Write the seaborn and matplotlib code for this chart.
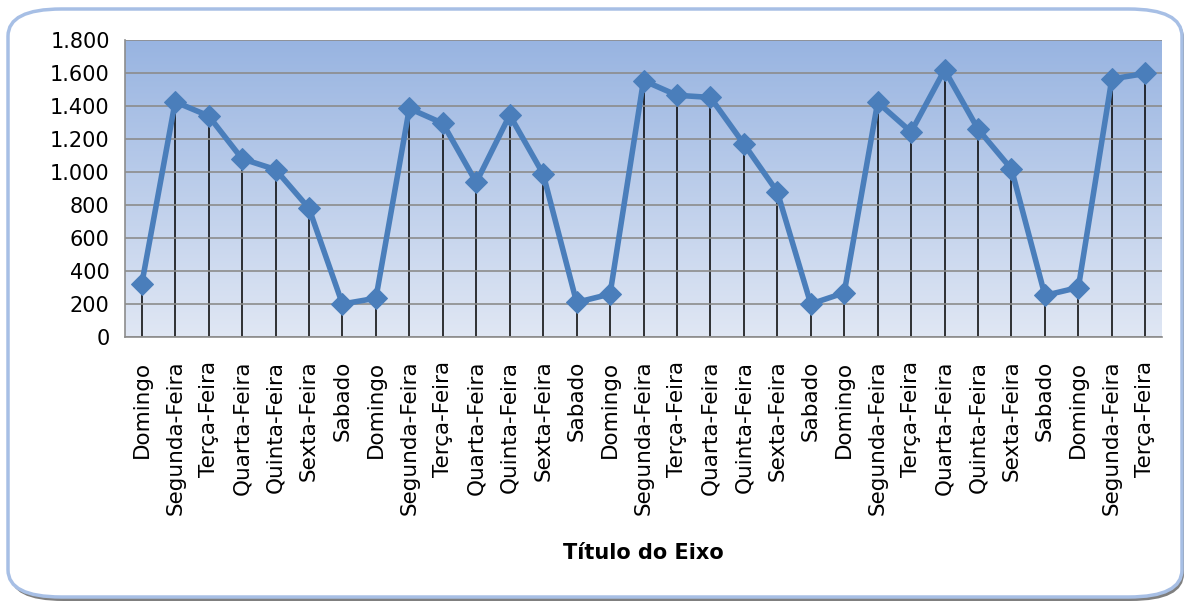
import numpy as np
import pandas as pd
import seaborn as sns
import matplotlib.pyplot as plt
from matplotlib.patches import FancyBboxPatch
from matplotlib.ticker import FuncFormatter, MultipleLocator

dias = ["Domingo", "Segunda-Feira", "Terça-Feira", "Quarta-Feira", "Quinta-Feira",
        "Sexta-Feira", "Sabado",
        "Domingo", "Segunda-Feira", "Terça-Feira", "Quarta-Feira", "Quinta-Feira",
        "Sexta-Feira", "Sabado",
        "Domingo", "Segunda-Feira", "Terça-Feira", "Quarta-Feira", "Quinta-Feira",
        "Sexta-Feira", "Sabado",
        "Domingo", "Segunda-Feira", "Terça-Feira", "Quarta-Feira", "Quinta-Feira",
        "Sexta-Feira", "Sabado",
        "Domingo", "Segunda-Feira", "Terça-Feira"]
valores = [320, 1425, 1340, 1080, 1015, 780, 200,
           235, 1385, 1295, 937, 1345, 988, 210,
           260, 1554, 1465, 1452, 1170, 880, 200,
           268, 1422, 1243, 1619, 1260, 1018, 252,
           300, 1564, 1597]

df = pd.DataFrame({"idx": np.arange(len(dias)), "dia": dias, "valor": valores})

sns.set_style("white")
plt.rcParams['font.family'] = ['DejaVu Sans']
plt.rcParams['text.color'] = 'black'
plt.rcParams['axes.labelcolor'] = 'black'
plt.rcParams['xtick.color'] = 'black'
plt.rcParams['ytick.color'] = 'black'

fig = plt.figure(figsize=(11.88, 6.03), dpi=100)

# rounded frame with shadow
shadow = FancyBboxPatch((10 / 1188, 2 / 603), 1174 / 1188, 590 / 603,
                        boxstyle="round,pad=0,rounding_size=0.045",
                        transform=fig.transFigure, facecolor="#7f7f7f",
                        edgecolor="none", zorder=0)
frame = FancyBboxPatch((8 / 1188, 6 / 603), 1174 / 1188, 588 / 603,
                       boxstyle="round,pad=0,rounding_size=0.045",
                       transform=fig.transFigure, facecolor="white",
                       edgecolor="#a7bfe5", linewidth=2.5, zorder=1)
fig.patches.extend([shadow, frame])

ax = fig.add_axes([125 / 1188, 1 - 337 / 603, 1037 / 1188, 297 / 603])
ax.set_zorder(2)
ax.patch.set_alpha(0)

# gradient background
grad = np.linspace(0, 1, 256).reshape(-1, 1)
top = np.array([152, 180, 225]) / 255
bot = np.array([224, 231, 244]) / 255
img = top[None, None, :] * (1 - grad[:, :, None]) + bot[None, None, :] * grad[:, :, None]
ax.imshow(img, extent=[-0.5, len(dias) - 0.5, 0, 1800], aspect="auto", zorder=0)

# drop lines
ax.vlines(df["idx"], 0, df["valor"], color="black", linewidth=1.1, zorder=2)

sns.lineplot(data=df, x="idx", y="valor", ax=ax, color="#4a7ebb", linewidth=4,
             marker="D", markersize=11, markeredgecolor="#4a7ebb", zorder=3)

ax.set_xlim(-0.5, len(dias) - 0.5)
ax.set_ylim(0, 1800)
ax.yaxis.set_major_locator(MultipleLocator(200))
ax.yaxis.set_major_formatter(FuncFormatter(lambda v, p: f"{int(v):,}".replace(",", ".")))
ax.grid(axis="y", color="#8c8c8c", linewidth=1.2, zorder=1)
ax.set_axisbelow(False)

ax.set_xticks(df["idx"])
ax.set_xticklabels(dias, rotation=90, fontsize=15.5)
ax.set_xticks(np.arange(-0.5, len(dias)), minor=True)
ax.tick_params(axis="x", which="major", length=0, pad=17)
ax.tick_params(axis="x", which="minor", length=5, color="#8c8c8c", direction="out")
ax.tick_params(axis="y", length=5, color="#8c8c8c", direction="out", labelsize=15, pad=6)

for side in ["top", "right"]:
    ax.spines[side].set_visible(False)
for side in ["left", "bottom"]:
    ax.spines[side].set_color("#8c8c8c")
    ax.spines[side].set_linewidth(1.2)

ax.set_xlabel("Título do Eixo", fontsize=15, fontweight="bold", labelpad=20)
ax.set_ylabel("")

fig.savefig("out.png", dpi=100)
